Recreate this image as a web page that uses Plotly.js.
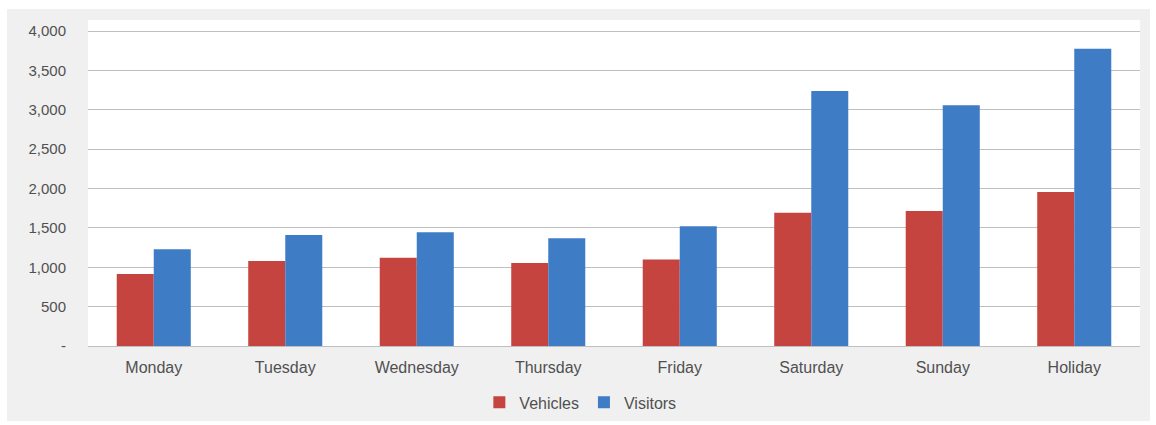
<!DOCTYPE html>
<html>
<head>
<meta charset="utf-8">
<script src="https://cdn.plot.ly/plotly-3.0.1.min.js"></script>
<style>
html,body{margin:0;padding:0;background:#ffffff;overflow:hidden;}
#chart{position:absolute;left:7px;top:9px;width:1143px;height:412px;}
</style>
</head>
<body>
<div id="chart"></div>
<script>
const categories = ["Monday","Tuesday","Wednesday","Thursday","Friday","Saturday","Sunday","Holiday"];
const vehicles = [914, 1079, 1121, 1054, 1100, 1693, 1714, 1956];
const visitors = [1228, 1410, 1444, 1367, 1520, 3238, 3056, 3775];
const yTickVals = [0, 500, 1000, 1500, 2000, 2500, 3000, 3500, 4000];
const yTickText = ["-", "500", "1,000", "1,500", "2,000", "2,500", "3,000", "3,500", "4,000"];

const font = {family: "Liberation Sans, Arial, sans-serif", size: 15, color: "#505050"};

const data = [
  {type: "bar", name: "Vehicles", x: categories, y: vehicles, marker: {color: "#C6443F"}},
  {type: "bar", name: "Visitors", x: categories, y: visitors, marker: {color: "#3F7CC6"}}
];

const layout = {
  width: 1143, height: 412,
  margin: {l: 81, r: 10, t: 11, b: 75, autoexpand: false},
  paper_bgcolor: "#f0f0f0",
  plot_bgcolor: "#ffffff",
  font: font,
  barmode: "group",
  bargap: 0.437,
  bargroupgap: 0,
  showlegend: true,
  legend: {orientation: "h", x: 0.372, xanchor: "left", xref: "paper",
           yref: "container", y: 0.045, yanchor: "middle",
           font: {family: font.family, size: 16, color: "#505050"}, itemwidth: 30, tracegroupgap: 0,
           bgcolor: "rgba(0,0,0,0)"},
  xaxis: {type: "category", showgrid: false, showline: true, linecolor: "#bfbfbf", linewidth: 1,
          ticks: "", tickfont: {family: font.family, size: 16, color: "#505050"}, ticklabelstandoff: 7,
          automargin: false},
  yaxis: {range: [0, 4140], tickvals: yTickVals, ticktext: yTickText, showgrid: true,
          gridcolor: "#bfbfbf", gridwidth: 1, zeroline: false, showline: false, ticks: "",
          ticklabelstandoff: 21, automargin: false,
          tickfont: {family: font.family, size: 15, color: "#505050"}}
};

Plotly.newPlot("chart", data, layout, {displayModeBar: false, staticPlot: true});
</script>
</body>
</html>
